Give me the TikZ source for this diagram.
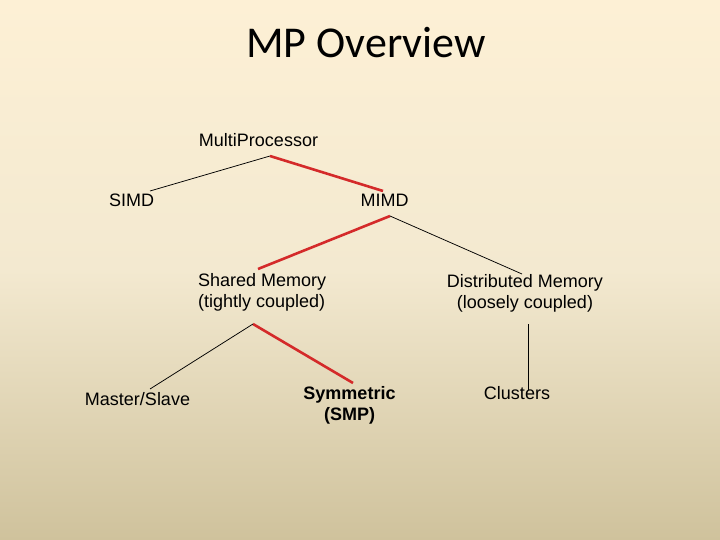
\documentclass[tikz,border=0pt]{standalone}
\usepackage{fontspec}
\setmainfont{Liberation Sans}
\newfontfamily\titlefont{Carlito}
\usetikzlibrary{calc}
\definecolor{bgtop}{HTML}{FDF0D5}
\definecolor{bgmid}{HTML}{F3E9D0}
\definecolor{bgbot}{HTML}{CFC29C}
\definecolor{linkred}{HTML}{D42A2A}
\begin{document}
\begin{tikzpicture}[x=1pt,y=-1pt,
  lbl/.style={inner sep=0pt, anchor=base, font=\fontsize{18}{21.6}\selectfont},
  thin link/.style={draw=black, line width=0.75pt},
  red link/.style={draw=linkred, line width=2.6pt}]
\useasboundingbox (0,0) rectangle (720,540);
\shade[top color=bgtop, bottom color=bgbot, middle color=bgmid] (0,0) rectangle (720,540);
\node[inner sep=0pt, anchor=base, font=\titlefont\fontsize{44}{52}\selectfont] (title) at (366,58) {MP Overview};
\node[lbl] (mp) at (258.5,147) {MultiProcessor};
\node[lbl] (simd) at (131.5,207) {SIMD};
\node[lbl] (mimd) at (384.5,207) {MIMD};
\node[lbl, anchor=base west, align=left] (shared) at (198,307.6) {Shared Memory\\(tightly coupled)};
\node[lbl, align=center] (dist) at (525,308.6) {Distributed Memory\\(loosely coupled)};
\node[lbl] (master) at (137.5,405) {Master/Slave};
\node[lbl, align=center, font=\bfseries\fontsize{18}{21.6}\selectfont] (sym) at (349.5,420.6) {Symmetric\\(SMP)};
\node[lbl] (clus) at (517,399) {Clusters};
% connectors
\draw[thin link] ($(mp.base)+(11.5,9)$) -- ($(simd.base)+(18.5,-16)$);
\draw[red link] ($(mp.base)+(11.5,9)$) -- ($(mimd.base)+(-1.5,-16)$);
\draw[red link] ($(mimd.base)+(5.5,9)$) -- ($(shared.base west)+(60,-38.6)$);
\draw[thin link] ($(mimd.base)+(5.5,9)$) -- ($(dist.base)+(-3,-34.6)$);
\draw[red link] ($(shared.base west)+(55,16.4)$) -- ($(sym.base)+(3.5,-37.6)$);
\draw[thin link] ($(shared.base west)+(55,16.4)$) -- ($(master.base)+(12.5,-16)$);
\draw[thin link] ($(dist.base)+(3,15.4)$) -- ($(clus.base)+(11,-9)$);
\end{tikzpicture}
\end{document}
